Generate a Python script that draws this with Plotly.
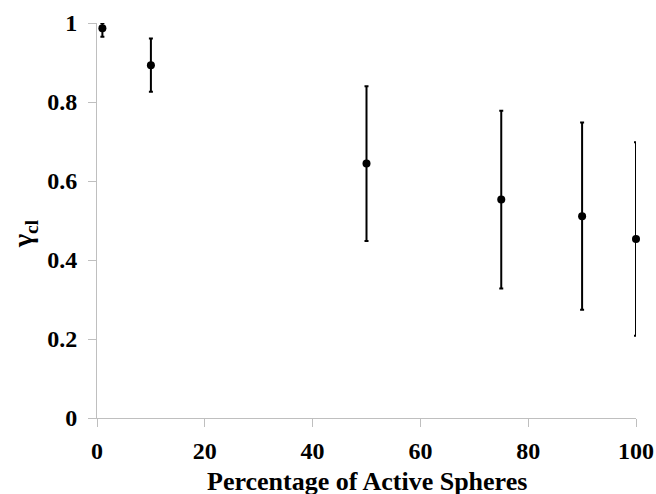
import plotly.graph_objects as go

pct_active = [1, 10, 50, 75, 90, 100]
gamma_cl = [0.987, 0.893, 0.644, 0.553, 0.511, 0.453]
err_plus = [0.013, 0.068, 0.196, 0.225, 0.237, 0.245]
err_minus = [0.022, 0.067, 0.196, 0.225, 0.237, 0.245]
x_ticks = [0, 20, 40, 60, 80, 100]
y_ticks = [0, 0.2, 0.4, 0.6, 0.8, 1]
y_tick_text = ["0", "0.2", "0.4", "0.6", "0.8", "1"]

font_family = "Liberation Serif, Times New Roman, serif"

fig = go.Figure(go.Scatter(
    x=pct_active, y=gamma_cl, mode="markers",
    marker=dict(color="black", size=8),
    error_y=dict(type="data", symmetric=False, array=err_plus, arrayminus=err_minus,
                 color="black", thickness=2, width=2),
    cliponaxis=False,
))

fig.update_layout(
    width=656, height=494,
    margin=dict(l=97, r=20, t=23, b=76),
    plot_bgcolor="white", paper_bgcolor="white",
    showlegend=False,
    font=dict(family=font_family, color="black", size=24),
    xaxis=dict(
        range=[0, 100], tickvals=x_ticks, ticks="outside", ticklen=8, tickcolor="#bfbfbf",
        showline=True, linecolor="#bfbfbf", linewidth=1, showgrid=False, zeroline=False,
        automargin=False, ticklabelstandoff=3,
        tickfont=dict(family=font_family, size=24, color="black", weight="bold"),
    ),
    yaxis=dict(
        range=[0, 1], tickvals=y_ticks, ticktext=y_tick_text, ticks="outside", ticklen=8,
        tickcolor="#bfbfbf", showline=True, linecolor="#bfbfbf", linewidth=1,
        showgrid=False, zeroline=False, ticklabelstandoff=6, automargin=False,
        tickfont=dict(family=font_family, size=24, color="black", weight="bold"),
    ),
    annotations=[
        dict(
            text="<b>γ<sub>cl</sub></b>", textangle=-90, showarrow=False,
            xref="paper", yref="paper", x=-0.1354, y=0.4658,
            xanchor="center", yanchor="middle",
            font=dict(family=font_family, size=28, color="black"),
        ),
        dict(
            text="<b>Percentage of Active Spheres</b>", showarrow=False,
            xref="paper", yref="paper", x=0.5, y=-0.119,
            xanchor="center", yanchor="top",
            font=dict(family=font_family, size=26, color="black"),
        ),
    ],
)

fig.write_html("out.html")
